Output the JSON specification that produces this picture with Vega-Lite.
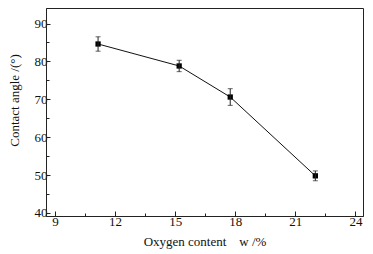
{
  "$schema": "https://vega.github.io/schema/vega-lite/v6.json",
  "width": 317,
  "height": 208,
  "autosize": {"type": "none"},
  "padding": {"left": 46, "top": 8, "right": 10, "bottom": 38},
  "background": "white",
  "config": {
    "view": {"stroke": "#222", "strokeWidth": 1},
    "font": "Liberation Serif",
    "axis": {
      "labelFont": "Liberation Serif",
      "titleFont": "Liberation Serif",
      "labelFontSize": 13,
      "titleFontSize": 13,
      "titleFontWeight": "normal",
      "labelColor": "#111",
      "titleColor": "#111",
      "domainColor": "#222",
      "tickColor": "#222",
      "grid": false
    }
  },
  "data": {
    "values": [
      {"w": 11.15, "angle": 84.6, "lo": 82.7, "hi": 86.5},
      {"w": 15.2, "angle": 78.8, "lo": 77.3, "hi": 80.3},
      {"w": 17.75, "angle": 70.6, "lo": 68.4, "hi": 72.8},
      {"w": 22.0, "angle": 49.8, "lo": 48.5, "hi": 51.1}
    ]
  },
  "layer": [
    {
      "mark": {"type": "line", "color": "#111", "strokeWidth": 1},
      "encoding": {
        "x": {
          "field": "w", "type": "quantitative",
          "scale": {"domain": [8.55, 24.38], "nice": false, "zero": false},
          "axis": {
            "orient": "bottom",
            "values": [9, 12, 15, 18, 21, 24],
            "tickSize": -5,
            "labelPadding": 4,
            "title": "Oxygen content\u00a0\u00a0\u00a0\u00a0w /%",
            "titlePadding": 7
          }
        },
        "y": {
          "field": "angle", "type": "quantitative",
          "scale": {"domain": [39.2, 94.1], "nice": false, "zero": false},
          "axis": {
            "orient": "left",
            "values": [40, 50, 60, 70, 80, 90],
            "tickSize": -4,
            "labelPadding": 3,
            "title": "Contact angle /(°)",
            "titlePadding": 13,
            "titleY": 92
          }
        }
      }
    },
    {
      "mark": {"type": "point", "shape": "square", "filled": true, "color": "#000", "size": 28, "opacity": 1},
      "encoding": {
        "x": {"field": "w", "type": "quantitative", "axis": null},
        "y": {"field": "angle", "type": "quantitative", "axis": null}
      }
    },
    {
      "mark": {"type": "errorbar", "ticks": {"size": 5, "color": "#222"}, "rule": {"color": "#222"}},
      "encoding": {
        "x": {"field": "w", "type": "quantitative", "axis": null},
        "y": {"field": "lo", "type": "quantitative", "axis": null},
        "y2": {"field": "hi"}
      }
    },
    {
      "data": {"values": [{"m": 10.5}, {"m": 13.5}, {"m": 16.5}, {"m": 19.5}, {"m": 22.5}]},
      "mark": {"type": "rule", "opacity": 0},
      "encoding": {
        "x": {
          "field": "m", "type": "quantitative",
          "axis": {"orient": "bottom", "values": [10.5, 13.5, 16.5, 19.5, 22.5], "tickSize": -3, "labels": false, "title": null, "domain": false}
        }
      }
    },
    {
      "data": {"values": [{"n": 45}, {"n": 55}, {"n": 65}, {"n": 75}, {"n": 85}]},
      "mark": {"type": "rule", "opacity": 0},
      "encoding": {
        "y": {
          "field": "n", "type": "quantitative",
          "axis": {"orient": "left", "values": [45, 55, 65, 75, 85], "tickSize": -3, "labels": false, "title": null, "domain": false}
        }
      }
    }
  ],
  "resolve": {"axis": {"x": "independent", "y": "independent"}}
}
